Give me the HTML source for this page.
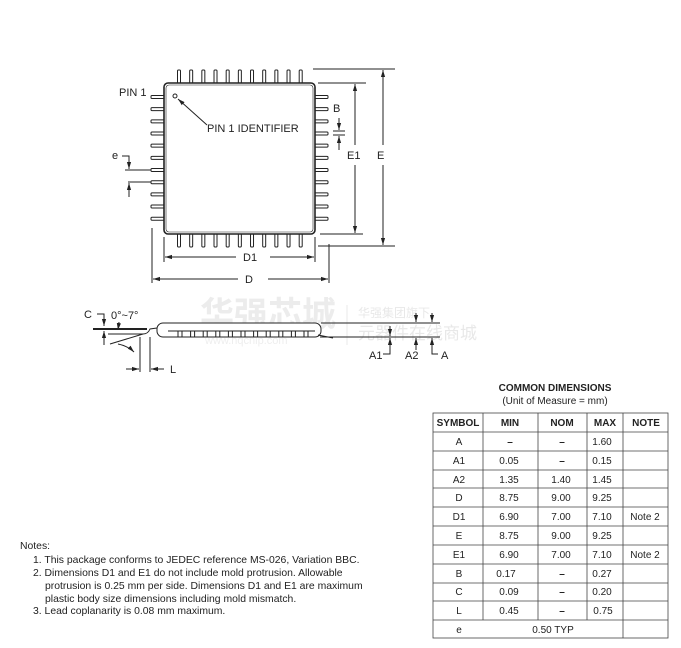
<!DOCTYPE html>
<html><head><meta charset="utf-8"><style>
html,body{margin:0;padding:0;background:#fff;}
svg{display:block;font-family:"Liberation Sans","Noto Sans CJK SC",sans-serif;}
</style></head><body>
<svg id="s" width="681" height="648" viewBox="0 0 681 648" xmlns="http://www.w3.org/2000/svg">
<defs>
<marker id="ar" viewBox="0 0 10 10" refX="10" refY="5" markerWidth="7" markerHeight="7" orient="auto-start-reverse"><path d="M0,2 L10,5 L0,8 z" fill="#222"/></marker>
</defs>
<g id="pins" stroke="#222" stroke-width="1" fill="#fff"></g>
<rect x="164" y="83" width="151" height="151" rx="4" fill="#fff" stroke="#222" stroke-width="1.6"/>
<rect x="166" y="85" width="147" height="147" rx="3" fill="none" stroke="#222" stroke-width="0.6"/>
<g fill="#222" font-size="11">
<text x="119" y="96">PIN 1</text>
<text x="207" y="132">PIN 1 IDENTIFIER</text>
<text x="333" y="112">B</text>
<text x="112" y="159">e</text>
<text x="347" y="159">E1</text>
<text x="377" y="159">E</text>
<text x="243" y="261">D1</text>
<text x="245" y="283">D</text>
</g>
<circle cx="175" cy="96" r="2" fill="none" stroke="#222"/>
<line x1="207" y1="125" x2="178" y2="99" stroke="#222" marker-end="url(#ar)"/>
<g stroke="#222" stroke-width="1" fill="none">
<line x1="318" y1="83" x2="366" y2="83"/><line x1="320" y1="234" x2="363" y2="234"/>
<line x1="355" y1="145" x2="355" y2="84" marker-end="url(#ar)"/><line x1="355" y1="165" x2="355" y2="233" marker-end="url(#ar)"/>
<line x1="313" y1="69" x2="395" y2="69"/><line x1="318" y1="246" x2="395" y2="246"/>
<line x1="383" y1="145" x2="383" y2="70" marker-end="url(#ar)"/><line x1="383" y1="165" x2="383" y2="245" marker-end="url(#ar)"/>
<line x1="339" y1="118" x2="339" y2="130" marker-end="url(#ar)"/>
<line x1="333" y1="131" x2="345" y2="131"/><line x1="333" y1="135" x2="345" y2="135"/>
<line x1="339" y1="150" x2="339" y2="136" marker-end="url(#ar)"/>
<path d="M122,156 H129 V169"/>
<line x1="129" y1="160" x2="129" y2="169" marker-end="url(#ar)"/>
<line x1="125" y1="170" x2="151" y2="170"/><line x1="128" y1="182" x2="151" y2="182"/>
<line x1="129" y1="197" x2="129" y2="183" marker-end="url(#ar)"/>
<line x1="164" y1="237" x2="164" y2="262"/><line x1="315" y1="237" x2="315" y2="262"/>
<line x1="236" y1="257" x2="165" y2="257" marker-end="url(#ar)"/><line x1="270" y1="257" x2="314" y2="257" marker-end="url(#ar)"/>
<line x1="152" y1="228" x2="152" y2="283"/><line x1="329" y1="244" x2="329" y2="283"/>
<line x1="238" y1="279" x2="153" y2="279" marker-end="url(#ar)"/><line x1="268" y1="279" x2="328" y2="279" marker-end="url(#ar)"/>
</g>
<g>
<text x="200" y="326" font-size="34" font-weight="bold" fill="#ececec">华强芯城</text>
<text x="205" y="344" font-size="11" fill="#eeeeee">www.hqchip.com</text>
<text x="358" y="317" font-size="12" fill="#e8e8e8">华强集团旗下</text>
<text x="358" y="339" font-size="17" fill="#e8e8e8">元器件在线商城</text>
<line x1="347" y1="305" x2="347" y2="345" stroke="#e8e8e8"/>
</g>
<g stroke="#222" stroke-width="1" fill="none">
<rect x="157" y="323" width="164" height="14" rx="6" fill="#fff"/>
<g id="spins"></g>
<line x1="321" y1="323" x2="440" y2="323"/>
<line x1="320" y1="337" x2="440" y2="337"/>
<path d="M318,335 L333,338"/>
<line x1="93" y1="329" x2="147" y2="329" stroke-width="2"/>
<path d="M108,334 H143 Q148,334 150,329 L157,328"/>
<path d="M110,344 L143,334"/>
<path d="M118,344 Q128,346 134,352" marker-end="url(#ar)"/>
<line x1="140" y1="337" x2="140" y2="372"/><line x1="150" y1="337" x2="150" y2="372"/>
<line x1="126" y1="369" x2="139" y2="369" marker-end="url(#ar)"/>
<line x1="164" y1="369" x2="151" y2="369" marker-end="url(#ar)"/>
<path d="M97,314 H104 V326" marker-end="url(#ar)"/>
<line x1="104" y1="345" x2="104" y2="331" marker-end="url(#ar)"/>
<line x1="119" y1="322" x2="118" y2="330" marker-end="url(#ar)"/>
<line x1="390" y1="326" x2="390" y2="336" marker-end="url(#ar)"/>
<path d="M383,354 H390 V338" marker-end="url(#ar)"/>
<line x1="416" y1="313" x2="416" y2="322" marker-end="url(#ar)"/>
<line x1="416" y1="350" x2="416" y2="338" marker-end="url(#ar)"/>
<line x1="432" y1="313" x2="432" y2="322" marker-end="url(#ar)"/>
<path d="M438,354 H432 V338" marker-end="url(#ar)"/>
</g>
<g fill="#222" font-size="11">
<text x="84" y="318">C</text>
<text x="111" y="319">0°~7°</text>
<text x="369" y="359">A1</text>
<text x="405" y="359">A2</text>
<text x="441" y="359">A</text>
<text x="170" y="373">L</text>
</g>
<g fill="#222" font-size="10" text-anchor="middle">
<text x="555" y="391" font-weight="bold">COMMON DIMENSIONS</text>
<text x="555" y="404">(Unit of Measure = mm)</text>
</g>
<g stroke="#444" stroke-width="0.8" fill="none">
<rect x="433" y="413" width="235" height="225"/>
<path d="M483,413V620 M538,413V620 M587,413V620 M623,413V638"/>
<path d="M433,432H668 M433,451H668 M433,470H668 M433,488H668 M433,507H668 M433,526H668 M433,545H668 M433,564H668 M433,583H668 M433,601H668 M433,620H668"/>
</g>
<g fill="#222" font-size="10" text-anchor="middle">
<g font-weight="bold"><text x="458" y="426">SYMBOL</text><text x="510" y="426">MIN</text><text x="562" y="426">NOM</text><text x="605" y="426">MAX</text><text x="646" y="426">NOTE</text></g>
<text x="459" y="445">A</text><text x="510" y="445" font-weight="bold">–</text><text x="562" y="445" font-weight="bold">–</text><text x="602" y="445">1.60</text>
<text x="459" y="464">A1</text><text x="509" y="464">0.05</text><text x="562" y="464" font-weight="bold">–</text><text x="602" y="464">0.15</text>
<text x="459" y="483">A2</text><text x="509" y="483">1.35</text><text x="561" y="483">1.40</text><text x="602" y="483">1.45</text>
<text x="459" y="501">D</text><text x="509" y="501">8.75</text><text x="561" y="501">9.00</text><text x="602" y="501">9.25</text>
<text x="459" y="520">D1</text><text x="509" y="520">6.90</text><text x="561" y="520">7.00</text><text x="602" y="520">7.10</text><text x="645" y="520">Note 2</text>
<text x="459" y="539">E</text><text x="509" y="539">8.75</text><text x="561" y="539">9.00</text><text x="602" y="539">9.25</text>
<text x="459" y="558">E1</text><text x="509" y="558">6.90</text><text x="561" y="558">7.00</text><text x="602" y="558">7.10</text><text x="645" y="558">Note 2</text>
<text x="459" y="577">B</text><text x="506" y="577">0.17</text><text x="562" y="577" font-weight="bold">–</text><text x="602" y="577">0.27</text>
<text x="459" y="595">C</text><text x="509" y="595">0.09</text><text x="562" y="595" font-weight="bold">–</text><text x="602" y="595">0.20</text>
<text x="459" y="614">L</text><text x="509" y="614">0.45</text><text x="562" y="614" font-weight="bold">–</text><text x="603" y="614">0.75</text>
<text x="459" y="633">e</text><text x="553" y="633">0.50 TYP</text>
</g>
<g fill="#222" font-size="10.4">
<text x="20" y="549">Notes:</text>
<text x="33" y="563">1. This package conforms to JEDEC reference MS-026, Variation BBC.</text>
<text x="33" y="576">2. Dimensions D1 and E1 do not include mold protrusion.  Allowable</text>
<text x="45" y="589">protrusion is 0.25 mm per side. Dimensions D1 and E1 are maximum</text>
<text x="45" y="602">plastic body size dimensions including mold mismatch.</text>
<text x="33" y="614">3. Lead coplanarity is 0.08 mm maximum.</text>
</g>
<script>
var g=document.getElementById('pins'),ns='http://www.w3.org/2000/svg';
function r(x,y,w,h){var e=document.createElementNS(ns,'rect');e.setAttribute('x',x);e.setAttribute('y',y);e.setAttribute('width',w);e.setAttribute('height',h);e.setAttribute('rx',1);g.appendChild(e);}
for(var i=0;i<11;i++){var p=179+i*12.17;r(p-1.5,70,3,14);r(p-1.5,233,3,14);var q=97+i*12.17;r(151,q-1.5,14,3);r(314,q-1.5,14,3);}
var s=document.getElementById('spins');
var hl=document.createElementNS(ns,'path');hl.setAttribute('d','M168,331 H315');s.appendChild(hl);
for(var i=0;i<11;i++){var x=180+i*12.6;var e=document.createElementNS(ns,'path');e.setAttribute('d','M'+(x-2)+',331 V337 M'+(x+2)+',331 V337');s.appendChild(e);}
</script>
</svg>
</body></html>
